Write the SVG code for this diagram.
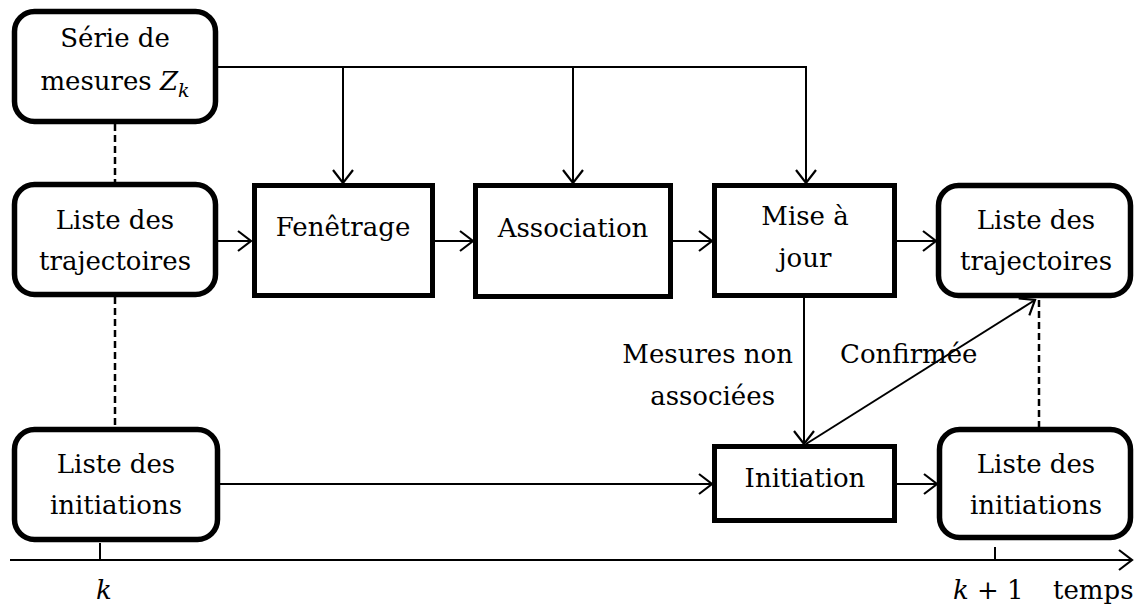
<svg xmlns="http://www.w3.org/2000/svg" width="1134" height="607" viewBox="0 0 1134 607">
<style>
  text { font-family: "DejaVu Serif", serif; font-size: 26px; fill: #000; }
  .c { text-anchor: middle; }
  .it { font-style: italic; }
  .rbox { fill: #fff; stroke: #000; stroke-width: 5.5; }
  .sbox { fill: #fff; stroke: #000; stroke-width: 5; }
  .ln { fill: none; stroke: #000; stroke-width: 2; }
  .dash { fill: none; stroke: #000; stroke-width: 2.5; stroke-dasharray: 7 4; }
</style>
<defs>
  <marker id="arr" markerUnits="userSpaceOnUse" markerWidth="16" markerHeight="22" refX="14" refY="11" orient="auto" viewBox="0 0 16 22">
    <path d="M1,1 L14,11 L1,21" fill="none" stroke="#000" stroke-width="2.2"/>
  </marker>
</defs>

<g id="connectors">
  <line class="dash" x1="115" y1="124" x2="115" y2="182"/>
  <line class="dash" x1="115" y1="297" x2="115" y2="427"/>
  <line class="dash" x1="1039" y1="300" x2="1039" y2="427"/>
  <polyline class="ln" points="218,67 806,67 806,183" marker-end="url(#arr)"/>
  <line class="ln" x1="343" y1="67" x2="343" y2="183" marker-end="url(#arr)"/>
  <line class="ln" x1="573" y1="67" x2="573" y2="183" marker-end="url(#arr)"/>
  <line class="ln" x1="218" y1="241" x2="251" y2="241" marker-end="url(#arr)"/>
  <line class="ln" x1="435" y1="241" x2="473" y2="241" marker-end="url(#arr)"/>
  <line class="ln" x1="673" y1="241" x2="712" y2="241" marker-end="url(#arr)"/>
  <line class="ln" x1="897" y1="241" x2="936" y2="241" marker-end="url(#arr)"/>
  <line class="ln" x1="804" y1="298" x2="804" y2="444" marker-end="url(#arr)"/>
  <line class="ln" x1="806" y1="444" x2="1035" y2="300" marker-end="url(#arr)"/>
  <line class="ln" x1="220" y1="484" x2="712" y2="484" marker-end="url(#arr)"/>
  <line class="ln" x1="897" y1="484" x2="937" y2="484" marker-end="url(#arr)"/>
</g>

<g id="mesures">
  <rect class="rbox" x="14.5" y="11.5" width="201" height="110" rx="20"/>
  <text class="c" x="115" y="47">Série de</text>
  <text class="c" x="115" y="90">mesures <tspan class="it">Z</tspan><tspan class="it" font-size="19" dy="7">k</tspan></text>
</g>

<g id="traj-k">
  <rect class="rbox" x="14.5" y="184.5" width="201" height="110" rx="20"/>
  <text class="c" x="115" y="229">Liste des</text>
  <text class="c" x="115" y="270">trajectoires</text>
</g>

<g id="fenetrage">
  <rect class="sbox" x="254.5" y="185.5" width="178" height="110"/>
  <text class="c" x="343" y="236">Fenêtrage</text>
</g>

<g id="association">
  <rect class="sbox" x="475.5" y="185.5" width="195" height="111"/>
  <text class="c" x="573" y="237">Association</text>
</g>

<g id="miseajour">
  <rect class="sbox" x="714.5" y="185.5" width="180" height="110"/>
  <text class="c" x="805" y="225">Mise à</text>
  <text class="c" x="805" y="267">jour</text>
</g>

<g id="traj-k1">
  <rect class="rbox" x="938.5" y="185.5" width="192" height="110" rx="20"/>
  <text class="c" x="1036" y="229">Liste des</text>
  <text class="c" x="1036" y="270">trajectoires</text>
</g>

<g id="init-k">
  <rect class="rbox" x="14.5" y="429.5" width="203" height="110" rx="20"/>
  <text class="c" x="116" y="473">Liste des</text>
  <text class="c" x="116" y="514">initiations</text>
</g>

<g id="initiation">
  <rect class="sbox" x="714.5" y="446.5" width="180" height="74"/>
  <text class="c" x="805" y="487">Initiation</text>
</g>

<g id="init-k1">
  <rect class="rbox" x="939.5" y="429.5" width="191" height="108" rx="20"/>
  <text class="c" x="1036" y="473">Liste des</text>
  <text class="c" x="1036" y="514">initiations</text>
</g>

<g id="labels">
  <text x="793" y="363" text-anchor="end">Mesures non</text>
  <text x="775" y="405" text-anchor="end">associées</text>
  <text x="840" y="363">Confirmée</text>
</g>

<g id="axis">
  <line class="ln" x1="10" y1="560" x2="1132" y2="560" marker-end="url(#arr)"/>
  <line class="ln" x1="100" y1="543" x2="100" y2="560" stroke-width="1.5"/>
  <line class="ln" x1="995" y1="547" x2="995" y2="560" stroke-width="1.5"/>
  <text class="it c" x="104" y="599">k</text>
  <text x="953" y="599"><tspan class="it">k</tspan> + 1</text>
  <text x="1053" y="599">temps</text>
</g>
</svg>
